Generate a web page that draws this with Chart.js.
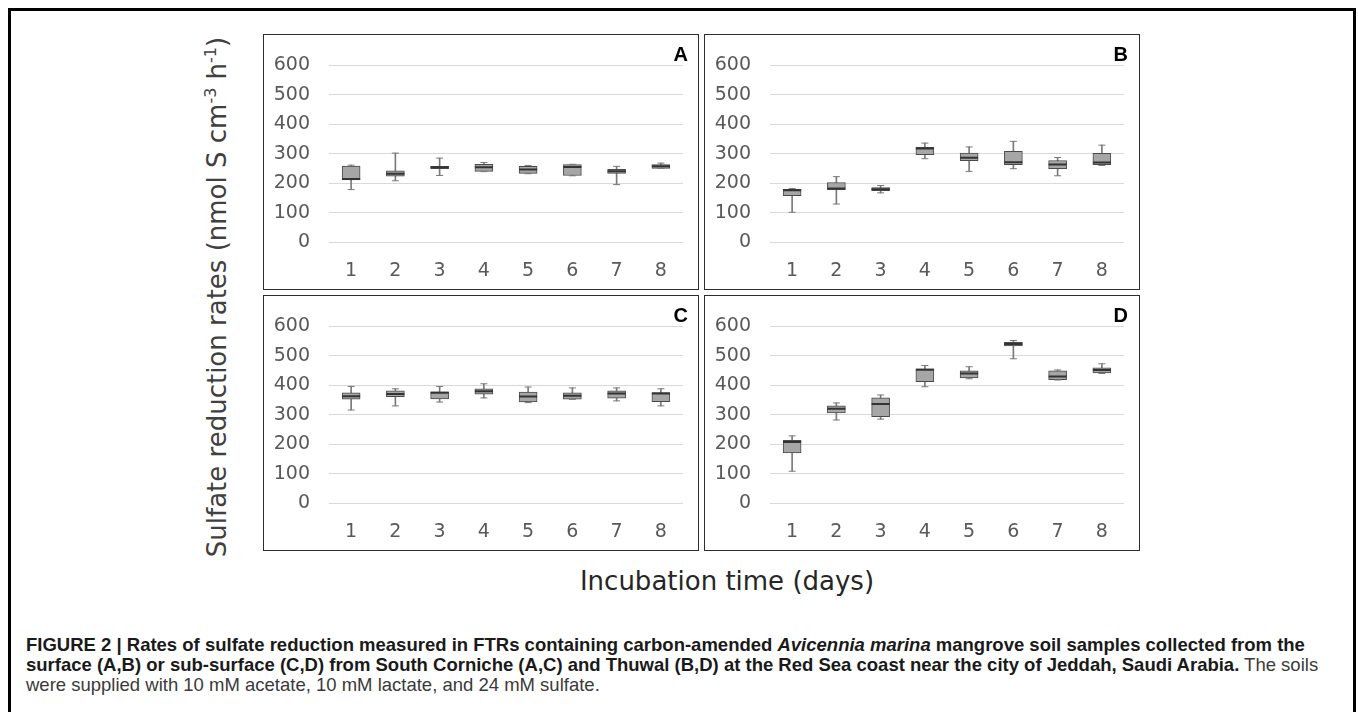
<!DOCTYPE html>
<html>
<head>
<meta charset="utf-8">
<script src="https://cdn.jsdelivr.net/npm/chart.js@4.4.0/dist/chart.umd.min.js"></script>
<style>
html,body{margin:0;padding:0;background:#fff;width:1358px;height:712px;overflow:hidden;position:relative;}
#frame{position:absolute;left:8px;top:8px;width:1348px;height:760px;border:3px solid #000;border-bottom:none;box-sizing:border-box;}
.panel{position:absolute;width:436px;height:256px;border:1px solid #2e2e2e;box-sizing:border-box;background:#fff;}
.panel canvas{position:absolute;left:0;top:0;}
.letter{position:absolute;top:9px;right:10px;font:bold 20px/20px "Liberation Sans",Arial,sans-serif;color:#000;}
#ytitle{position:absolute;left:217px;top:297px;transform:translate(-50%,-50%) rotate(-90deg);white-space:nowrap;font:26px/30px "DejaVu Sans",sans-serif;color:#404040;}
#ytitle sup{font-size:16px;line-height:0;vertical-align:10px;}
#xtitle{position:absolute;left:727px;top:566px;transform:translateX(-50%);white-space:nowrap;font:26px/30px "DejaVu Sans",sans-serif;color:#262626;}
#caption{position:absolute;left:26px;top:635px;white-space:nowrap;font:18.5px/20px "Liberation Sans",Arial,sans-serif;color:#3a3a3a;}
#caption b{color:#1a1a1a;}
</style>
</head>
<body>
<div id="frame"></div>

<div class="panel" style="left:263px;top:34px;"><canvas id="cA" width="434" height="254"></canvas><div class="letter">A</div></div>
<div class="panel" style="left:704px;top:34px;"><canvas id="cB" width="434" height="254"></canvas><div class="letter" style="right:11px">B</div></div>
<div class="panel" style="left:263px;top:295px;"><canvas id="cC" width="434" height="254"></canvas><div class="letter">C</div></div>
<div class="panel" style="left:704px;top:295px;"><canvas id="cD" width="434" height="254"></canvas><div class="letter" style="right:11px">D</div></div>

<div id="ytitle">Sulfate reduction rates (nmol S cm<sup>-3</sup> h<sup>-1</sup>)</div>
<div id="xtitle">Incubation time (days)</div>
<div id="caption"><b>FIGURE 2 | Rates of sulfate reduction measured in FTRs containing carbon-amended <i>Avicennia marina</i> mangrove soil samples collected from the</b><br><b>surface (A,B) or sub-surface (C,D) from South Corniche (A,C) and Thuwal (B,D) at the Red Sea coast near the city of Jeddah, Saudi Arabia.</b> The soils<br>were supplied with 10 mM acetate, 10 mM lactate, and 24 mM sulfate.</div>

<script>
// ---- data ----
const days = ['1','2','3','4','5','6','7','8'];
const yTicks = [0, 100, 200, 300, 400, 500, 600];

// Panel A
const aMin = [178, 208, 226, 239, 232, 225, 195, 250];
const aQ1  = [211, 224, 249, 240, 233, 226, 233, 250];
const aMed = [214, 232, 254, 254, 246, 255, 240, 257];
const aQ3  = [258, 242, 257, 264, 257, 263, 247, 263];
const aMax = [261, 302, 285, 270, 260, 264, 257, 268];

// Panel B
const bMin = [101, 129, 167, 283, 240, 249, 225, 260];
const bQ1  = [157, 178, 174, 297, 276, 263, 249, 263];
const bMed = [176, 182, 179, 318, 286, 271, 263, 270];
const bQ3  = [179, 202, 185, 322, 302, 308, 277, 301];
const bMax = [182, 222, 192, 336, 323, 342, 287, 329];

// Panel C
const cMin = [316, 330, 343, 357, 341, 352, 347, 330];
const cQ1  = [353, 361, 354, 370, 343, 353, 356, 344];
const cMed = [363, 370, 375, 380, 362, 364, 372, 372];
const cQ3  = [374, 381, 378, 388, 377, 374, 381, 375];
const cMax = [396, 388, 396, 405, 394, 391, 391, 388];

// Panel D
const dMin = [108, 282, 285, 395, 422, 490, 418, 440];
const dQ1  = [170, 306, 293, 412, 425, 534, 419, 442];
const dMed = [207, 320, 336, 453, 440, 540, 430, 452];
const dQ3  = [213, 330, 357, 456, 449, 546, 449, 459];
const dMax = [228, 340, 367, 467, 463, 552, 452, 473];

Chart.defaults.font.family = '"DejaVu Sans", Verdana, sans-serif';

function boxChart(id, mins, q1, med, q3, maxs) {
  const capStyle = {type: 'line', showLine: false, pointStyle: 'line', pointRadius: 3.5,
                    pointBorderWidth: 1, pointBorderColor: '#7a7a7a', borderColor: '#7a7a7a'};
  return new Chart(document.getElementById(id), {
    type: 'bar',
    data: {
      labels: days,
      datasets: [
        {type: 'bar', data: mins.map((v, i) => [v, maxs[i]]), backgroundColor: '#7a7a7a',
         barThickness: 1, grouped: false, order: 5},
        {type: 'bar', data: q1.map((v, i) => [v, q3[i]]), backgroundColor: '#a6a6a6',
         borderColor: '#4a4a4a', borderWidth: 1, borderSkipped: false,
         barThickness: 18, grouped: false, order: 4},
        Object.assign({data: maxs, order: 3}, capStyle),
        Object.assign({data: mins, order: 2}, capStyle),
        {type: 'line', data: med, showLine: false, pointStyle: 'line', pointRadius: 9,
         pointBorderWidth: 2, pointBorderColor: '#333333', borderColor: '#333333', order: 1}
      ]
    },
    options: {
      responsive: false,
      devicePixelRatio: 1,
      animation: false,
      events: [],
      layout: {padding: {left: 0, right: 15, top: 19, bottom: 0}},
      plugins: {legend: {display: false}, tooltip: {enabled: false}},
      scales: {
        x: {
          grid: {display: false, drawTicks: false},
          border: {display: false},
          ticks: {color: '#595959', font: {size: 19}, padding: 18, maxRotation: 0},
          afterFit: s => { s.height = 47; }
        },
        y: {
          min: 0, max: 600,
          grid: {color: '#d9d9d9', lineWidth: 1, drawTicks: false},
          border: {display: false},
          ticks: {color: '#595959', font: {size: 19}, padding: 19},
          afterBuildTicks: s => { s.ticks = yTicks.map(v => ({value: v})); },
          afterFit: s => { s.width = 65; }
        }
      }
    }
  });
}

boxChart('cA', aMin, aQ1, aMed, aQ3, aMax);
boxChart('cB', bMin, bQ1, bMed, bQ3, bMax);
boxChart('cC', cMin, cQ1, cMed, cQ3, cMax);
boxChart('cD', dMin, dQ1, dMed, dQ3, dMax);
</script>
</body>
</html>
